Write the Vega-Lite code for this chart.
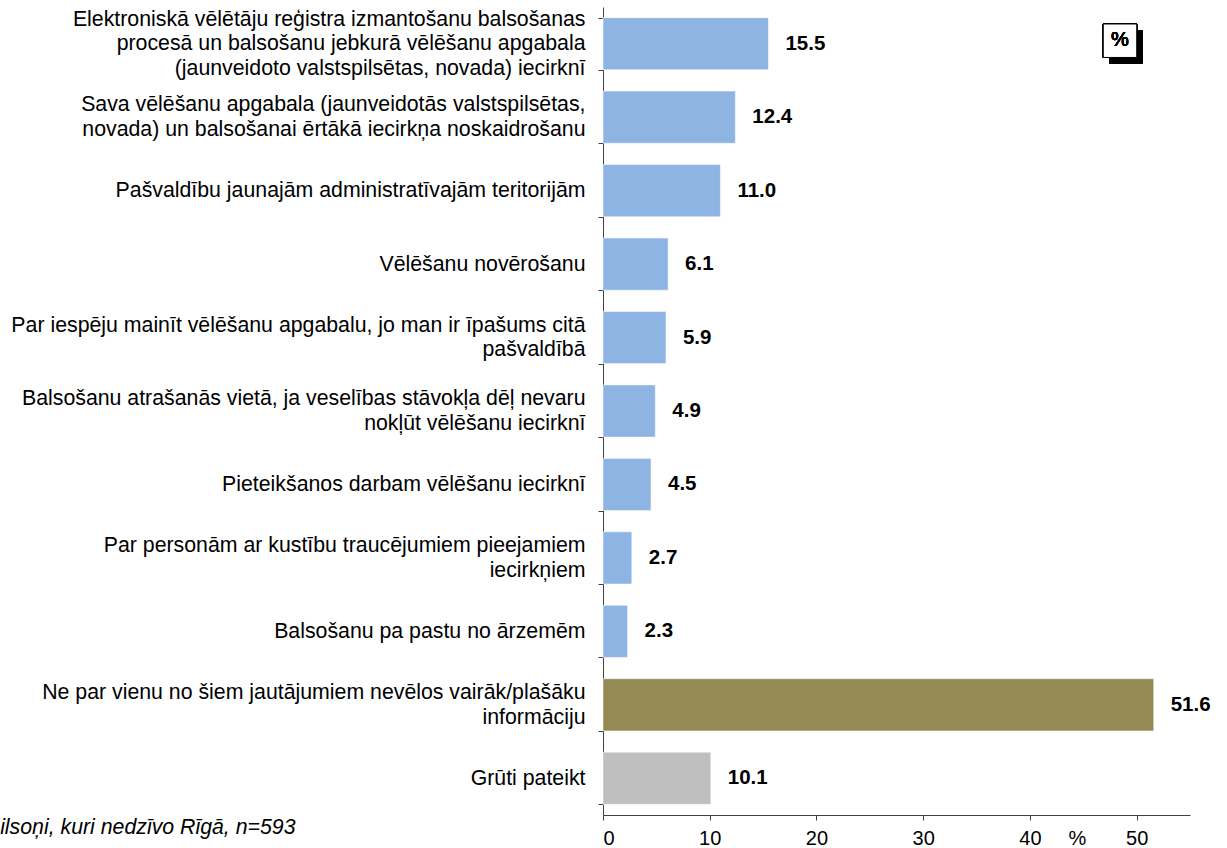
{
  "$schema": "https://vega.github.io/schema/vega-lite/v6.json",
  "autosize": {"type": "none"},
  "width": 587,
  "height": 808,
  "padding": {"left": 603, "top": 7, "right": 37, "bottom": 33},
  "background": "white",
  "config": {
    "view": {"stroke": null},
    "font": "Liberation Sans"
  },
  "data": {
    "values": [
      {"label": "Elektroniskā vēlētāju reģistra izmantošanu balsošanas|procesā un balsošanu jebkurā vēlēšanu apgabala|(jaunveidoto valstspilsētas, novada) iecirknī", "value": 15.5, "group": "topic"},
      {"label": "Sava vēlēšanu apgabala (jaunveidotās valstspilsētas,|novada) un balsošanai ērtākā iecirkņa noskaidrošanu", "value": 12.4, "group": "topic"},
      {"label": "Pašvaldību jaunajām administratīvajām teritorijām", "value": 11.0, "group": "topic"},
      {"label": "Vēlēšanu novērošanu", "value": 6.1, "group": "topic"},
      {"label": "Par iespēju mainīt vēlēšanu apgabalu, jo man ir īpašums citā|pašvaldībā", "value": 5.9, "group": "topic"},
      {"label": "Balsošanu atrašanās vietā, ja veselības stāvokļa dēļ nevaru|nokļūt vēlēšanu iecirknī", "value": 4.9, "group": "topic"},
      {"label": "Pieteikšanos darbam vēlēšanu iecirknī", "value": 4.5, "group": "topic"},
      {"label": "Par personām ar kustību traucējumiem pieejamiem|iecirkņiem", "value": 2.7, "group": "topic"},
      {"label": "Balsošanu pa pastu no ārzemēm", "value": 2.3, "group": "topic"},
      {"label": "Ne par vienu no šiem jautājumiem nevēlos vairāk/plašāku|informāciju", "value": 51.6, "group": "none"},
      {"label": "Grūti pateikt", "value": 10.1, "group": "dontknow"}
    ]
  },
  "encoding": {
    "y": {
      "field": "label",
      "type": "nominal",
      "sort": null,
      "scale": {"paddingInner": 0.29, "paddingOuter": 0.145},
      "axis": {
        "title": "ilsoņi, kuri nedzīvo Rīgā, n=593",
        "titleAngle": 0,
        "titleX": -308,
        "titleY": 826,
        "titleAlign": "right",
        "titleBaseline": "alphabetic",
        "titleFont": "Liberation Sans",
        "titleFontStyle": "italic",
        "titleFontWeight": "normal",
        "titleFontSize": 21.3,
        "titleColor": "black",
        "labelExpr": "split(datum.label, '|')",
        "labelOffset": {
          "condition": [
            {"test": "length(split(datum.value, '|')) == 3", "value": -24.5},
            {"test": "length(split(datum.value, '|')) == 2", "value": -12.25}
          ],
          "value": 0
        },
        "labelFont": "Liberation Sans",
        "labelFontSize": 21.3,
        "labelColor": "black",
        "labelLineHeight": 24.5,
        "labelPadding": 13,
        "labelLimit": 700,
        "tickBand": "extent",
        "tickSize": 5,
        "tickColor": "#404040",
        "domainColor": "#404040",
        "grid": false
      }
    }
  },
  "layer": [
    {
      "mark": {"type": "bar", "stroke": "white", "strokeWidth": 0.5},
      "encoding": {
        "x": {
          "field": "value",
          "type": "quantitative",
          "scale": {"domain": [0, 55], "nice": false},
          "axis": {
            "values": [0, 10, 20, 30, 40, 50],
            "title": "%",
            "titleX": 474,
            "titleY": 23,
            "titleBaseline": "middle",
            "titleAlign": "center",
            "titleFont": "Liberation Sans",
            "titleFontSize": 20,
            "titleFontWeight": "normal",
            "titleColor": "black",
            "labelFont": "Liberation Sans",
            "labelFontSize": 20,
            "labelColor": "black",
            "labelPadding": 8,
            "tickSize": 5,
            "tickColor": "#404040",
            "domainColor": "#404040",
            "grid": false
          }
        },
        "color": {
          "field": "group",
          "type": "nominal",
          "scale": {"domain": ["topic", "none", "dontknow"], "range": ["#8EB4E3", "#948A54", "#BFBFBF"]},
          "legend": null
        }
      }
    },
    {
      "mark": {"type": "text", "align": "left", "baseline": "middle", "dx": 17, "fontWeight": "bold", "fontSize": 20.5, "font": "Liberation Sans", "color": "black"},
      "encoding": {
        "x": {"field": "value", "type": "quantitative"},
        "text": {"field": "value", "type": "quantitative", "format": ".1f"}
      }
    },
    {
      "mark": {"type": "point", "shape": "square", "filled": true, "color": "black", "size": 1120, "xOffset": 6, "yOffset": 3, "opacity": 1},
      "encoding": {
        "x": {"datum": 48.44},
        "y": {"datum": "Elektroniskā vēlētāju reģistra izmantošanu balsošanas|procesā un balsošanu jebkurā vēlēšanu apgabala|(jaunveidoto valstspilsētas, novada) iecirknī"}
      }
    },
    {
      "mark": {"type": "point", "shape": "square", "filled": true, "fill": "white", "stroke": "black", "strokeWidth": 1, "size": 1120, "yOffset": -3, "opacity": 1},
      "encoding": {
        "x": {"datum": 48.44},
        "y": {"datum": "Elektroniskā vēlētāju reģistra izmantošanu balsošanas|procesā un balsošanu jebkurā vēlēšanu apgabala|(jaunveidoto valstspilsētas, novada) iecirknī"}
      }
    },
    {
      "mark": {"type": "text", "text": "%", "align": "center", "baseline": "middle", "fontSize": 20, "fontWeight": "normal", "font": "Liberation Sans", "color": "black", "yOffset": -4},
      "encoding": {
        "x": {"datum": 48.44},
        "y": {"datum": "Elektroniskā vēlētāju reģistra izmantošanu balsošanas|procesā un balsošanu jebkurā vēlēšanu apgabala|(jaunveidoto valstspilsētas, novada) iecirknī"}
      }
    }
  ]
}
